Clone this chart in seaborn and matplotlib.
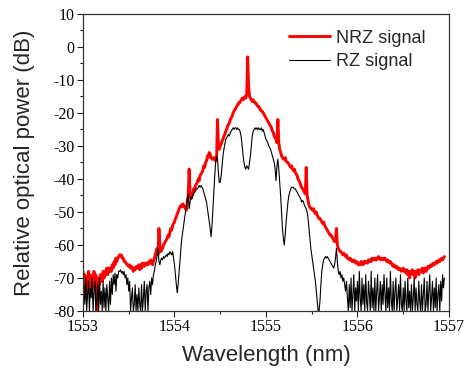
import matplotlib
matplotlib.use("Agg")
import matplotlib.pyplot as plt
from matplotlib.ticker import MultipleLocator
import numpy as np
import pandas as pd
import seaborn as sns

# spectra, one value every 0.01 nm starting at 1553.00 nm
WL_START = 1553.0
WL_STEP = 0.01

nrz_db = [
    -68, -73, -69, -75, -70, -72, -68, -74, -69, -71,            # 1553.0
    -70, -73, -68, -72, -69, -76, -80, -70, -72, -69,            # 1553.1
    -69, -71, -68, -70, -68, -69, -67, -69, -67, -68,            # 1553.2
    -67, -68, -66, -67, -65, -66, -64, -65, -64, -63.5,          # 1553.3
    -63, -63.5, -63, -64, -64, -65, -65, -65.5, -66, -66,        # 1553.4
    -66.5, -66, -67, -66.5, -67, -68, -67, -67.5, -66.5, -67,    # 1553.5
    -67, -66, -67.5, -66, -67, -65.5, -66, -66.5, -65.5, -66,    # 1553.6
    -65.5, -66, -65, -65.5, -64.5, -65, -66, -65, -64, -63,      # 1553.7
    -62, -61, -63, -55, -60, -62, -61.5, -61, -60, -59.5,        # 1553.8
    -59, -58.5, -58, -57, -57.5, -56, -55, -55.5, -54, -53.5,    # 1553.9
    -53, -52, -51.5, -50.5, -50, -49, -48.5, -48, -48.5, -47.5,  # 1554.0
    -48, -48.5, -49, -49.5, -47, -45, -37, -44, -46, -45,        # 1554.1
    -44.5, -43, -43.5, -42, -41.5, -41, -40, -40.5, -39, -38.5,  # 1554.2
    -38, -37.5, -36, -36.5, -35, -34.5, -33, -33.5, -32, -32.5,  # 1554.3
    -33.5, -34, -34, -33.5, -34, -34.5, -34, -22, -30, -31,      # 1554.4
    -30, -29.5, -28.5, -28, -27, -26.5, -25.5, -25, -24, -23.5,  # 1554.5
    -23, -22, -21.5, -21, -20, -19.5, -19, -18.5, -18, -17.5,    # 1554.6
    -17, -17, -16.5, -16, -15.5, -16, -15.5, -15, -15.5, -14,    # 1554.7
    -3, -12, -15, -15.5, -16, -16.5, -16, -16.5, -17, -17,       # 1554.8
    -17.5, -18, -18, -18.5, -19, -19.5, -19.5, -20, -20.5, -21,  # 1554.9
    -21.5, -22, -22.5, -23, -23.5, -24, -24.5, -25.5, -26, -27,  # 1555.0
    -27.5, -28, -29, -22, -29, -31, -32, -33, -33.5, -34,        # 1555.1
    -34, -33.5, -34.5, -35, -35, -35.5, -36, -36.5, -36, -37,    # 1555.2
    -37.5, -37, -38, -38.5, -39, -40, -40.5, -41, -42, -42.5,    # 1555.3
    -43, -43.5, -44, -44.5, -36.5, -45, -46.5, -48, -48.5, -49,  # 1555.4
    -49, -49.5, -49, -50, -50.5, -50, -51, -51.5, -52, -52,      # 1555.5
    -52.5, -53, -53.5, -53, -54, -54.5, -55, -55.5, -56, -56.5,  # 1555.6
    -57, -57, -57.5, -58, -58.5, -59, -58.5, -55, -60, -61,      # 1555.7
    -61.5, -62, -62, -62.5, -63, -62.5, -63, -63.5, -63, -64,    # 1555.8
    -64, -64.5, -64, -64.5, -65, -65, -64.5, -65, -65.5, -65,    # 1555.9
    -65.5, -66, -65.5, -66, -65, -65.5, -66, -65, -65.5, -65,    # 1556.0
    -65, -65.5, -64.5, -65, -64.5, -65, -64, -64.5, -64, -64.5,  # 1556.1
    -64, -64.5, -64, -63.5, -64, -64.5, -64, -64, -64.5, -64,    # 1556.2
    -64, -64.5, -65, -64.5, -65, -65.5, -65, -65.5, -66, -66.5,  # 1556.3
    -66, -66.5, -67, -66.5, -67, -67.5, -67, -67.5, -68, -67.5,  # 1556.4
    -67, -68, -67.5, -68.5, -67.5, -69, -68, -70, -68, -68.5,    # 1556.5
    -67.5, -69, -68, -70, -68, -68.5, -67.5, -69, -68, -67.5,    # 1556.6
    -68, -67, -68.5, -67.5, -67, -68, -67, -66.5, -67, -66.5,    # 1556.7
    -66, -66.5, -66, -65.5, -66, -65.5, -65, -65.5, -65, -64.5,  # 1556.8
    -65, -64.5, -64, -64.5, -64, -63.5,                          # 1556.9
]

rz_db = [
    -80, -72, -78, -70, -80, -75, -71, -80, -73, -76,            # 1553.0
    -70, -80, -74, -71, -80, -77, -72, -80, -70, -78,            # 1553.1
    -74, -80, -71, -79, -73, -80, -72, -76, -80, -71,            # 1553.2
    -78, -70, -75, -69, -72, -68.5, -74, -69, -70, -68,          # 1553.3
    -68, -67.5, -68.5, -68, -69, -68, -70, -69, -72, -70,        # 1553.4
    -74, -71, -80, -76, -73, -80, -78, -72, -80, -75,            # 1553.5
    -80, -73, -78, -80, -72, -80, -76, -71, -80, -74,            # 1553.6
    -72, -80, -73, -71, -75, -70, -72, -69, -68, -66,            # 1553.7
    -65, -63, -61, -65, -66, -64.5, -64, -64.5, -63.5, -64,      # 1553.8
    -63.5, -63, -63.5, -62.5, -63, -62, -62.5, -63, -62, -64,    # 1553.9
    -66, -69, -72, -74.5, -72, -68, -65, -61, -58, -56,          # 1554.0
    -54, -52, -50, -48, -46, -44.5, -49, -47, -45.5, -46,        # 1554.1
    -45, -44.5, -44, -43.5, -43, -43, -42.5, -42, -42.5, -42,    # 1554.2
    -42.5, -43, -44, -45, -46, -47, -49, -51, -53, -55,          # 1554.3
    -57.5, -54, -49, -44, -39, -35, -33, -34, -38, -41,          # 1554.4
    -41, -39, -36, -33, -31, -29.5, -28, -27.5, -27, -26.5,      # 1554.5
    -27, -26, -25.5, -25, -24.5, -25, -24.5, -24.5, -25, -24.5,  # 1554.6
    -25, -25, -26, -27.5, -30, -33, -35, -36.5, -37, -36,        # 1554.7
    -36.5, -37, -35, -33, -30, -27, -25.5, -25, -24.5, -25,      # 1554.8
    -24.5, -25, -24.5, -25, -25, -24.5, -25.5, -25, -26, -27,    # 1554.9
    -28, -28.5, -29, -30, -30.5, -31, -32, -33, -34, -35,        # 1555.0
    -37, -40.5, -36, -34, -37, -41, -45, -50, -55, -58,          # 1555.1
    -60, -57, -53, -50, -47, -45, -44, -43, -42.5, -42.5,        # 1555.2
    -42.5, -43, -43, -43.5, -44, -44.5, -45, -45.5, -46, -47,    # 1555.3
    -46.5, -47, -48, -48.5, -49, -50, -52, -55, -58, -61,        # 1555.4
    -63, -65, -67, -69, -71, -74, -77, -80, -80, -77,            # 1555.5
    -72, -68, -66, -64.5, -64, -63.5, -64, -63.5, -64, -64.5,    # 1555.6
    -65, -65.5, -66, -66.5, -67, -66, -64, -61, -65, -68,        # 1555.7
    -69, -68, -70, -69, -71, -70, -72, -74, -71, -76,            # 1555.8
    -80, -72, -79, -70, -80, -75, -69, -80, -73, -77,            # 1555.9
    -71, -80, -68, -76, -80, -70, -78, -72, -80, -69,            # 1556.0
    -77, -80, -71, -75, -80, -68, -79, -73, -80, -70,            # 1556.1
    -80, -74, -69, -80, -76, -71, -80, -72, -78, -69,            # 1556.2
    -75, -80, -70, -79, -73, -80, -68, -77, -80, -71,            # 1556.3
    -80, -74, -70, -80, -76, -72, -80, -69, -78, -80,            # 1556.4
    -73, -80, -71, -77, -80, -70, -79, -74, -80, -72,            # 1556.5
    -80, -76, -70, -80, -73, -78, -80, -71, -77, -80,            # 1556.6
    -72, -80, -75, -70, -80, -78, -71, -80, -74, -69,            # 1556.7
    -80, -76, -71, -80, -73, -79, -70, -80, -75, -72,            # 1556.8
    -80, -71, -77, -69, -73, -70,                                # 1556.9
]

series_names = ["NRZ signal", "RZ signal"]
series_colors = ["#ff0000", "black"]


def wavelengths(vals):
    return np.round(WL_START + WL_STEP * np.arange(len(vals)), 2)


def main():
    sns.set_style("ticks")
    plt.rcParams["font.family"] = ["Liberation Sans", "DejaVu Sans"]

    fig = plt.figure(figsize=(4.65, 3.72), dpi=100)
    ax = fig.add_axes([0.1785, 0.164, 0.787, 0.7985])

    df_nrz = pd.DataFrame({"wl": wavelengths(nrz_db), "db": nrz_db})
    df_rz = pd.DataFrame({"wl": wavelengths(rz_db), "db": rz_db})

    sns.lineplot(data=df_nrz, x="wl", y="db", color=series_colors[0],
                 lw=2.1, label=series_names[0], estimator=None, sort=False, ax=ax)
    sns.lineplot(data=df_rz, x="wl", y="db", color=series_colors[1],
                 lw=0.8, label=series_names[1], estimator=None, sort=False, ax=ax)

    ax.set_xlim(1553, 1557)
    ax.set_ylim(-80, 10)
    ax.xaxis.set_major_locator(MultipleLocator(1))
    ax.xaxis.set_minor_locator(MultipleLocator(0.5))
    ax.yaxis.set_major_locator(MultipleLocator(10))
    ax.yaxis.set_minor_locator(MultipleLocator(5))
    ax.xaxis.set_major_formatter(plt.FuncFormatter(lambda v, p: f"{v:.0f}"))
    ax.yaxis.set_major_formatter(plt.FuncFormatter(lambda v, p: f"{v:.0f}"))

    ax.tick_params(which="major", direction="out", length=4, width=0.8,
                   labelsize=11.5, pad=2, color="#222222",
                   labelcolor="black", labelfontfamily="Liberation Serif")
    ax.tick_params(which="minor", direction="out", length=2.5, width=0.8,
                   color="#222222")

    for sp in ax.spines.values():
        sp.set_visible(True)
        sp.set_linewidth(0.9)
        sp.set_color("#333333")

    ax.set_xlabel("Wavelength (nm)", fontsize=16)
    ax.set_ylabel("Relative optical power (dB)", fontsize=16)
    ax.xaxis.set_label_coords(0.5, -0.113)
    ax.yaxis.set_label_coords(-0.13, 0.5)

    ax.legend(loc="upper right", frameon=False, fontsize=13,
              handlelength=2.3, handletextpad=0.3, labelspacing=0.35,
              borderaxespad=0.3, bbox_to_anchor=(0.97, 0.99))

    fig.savefig("out.png", dpi=100)


if __name__ == "__main__":
    main()
